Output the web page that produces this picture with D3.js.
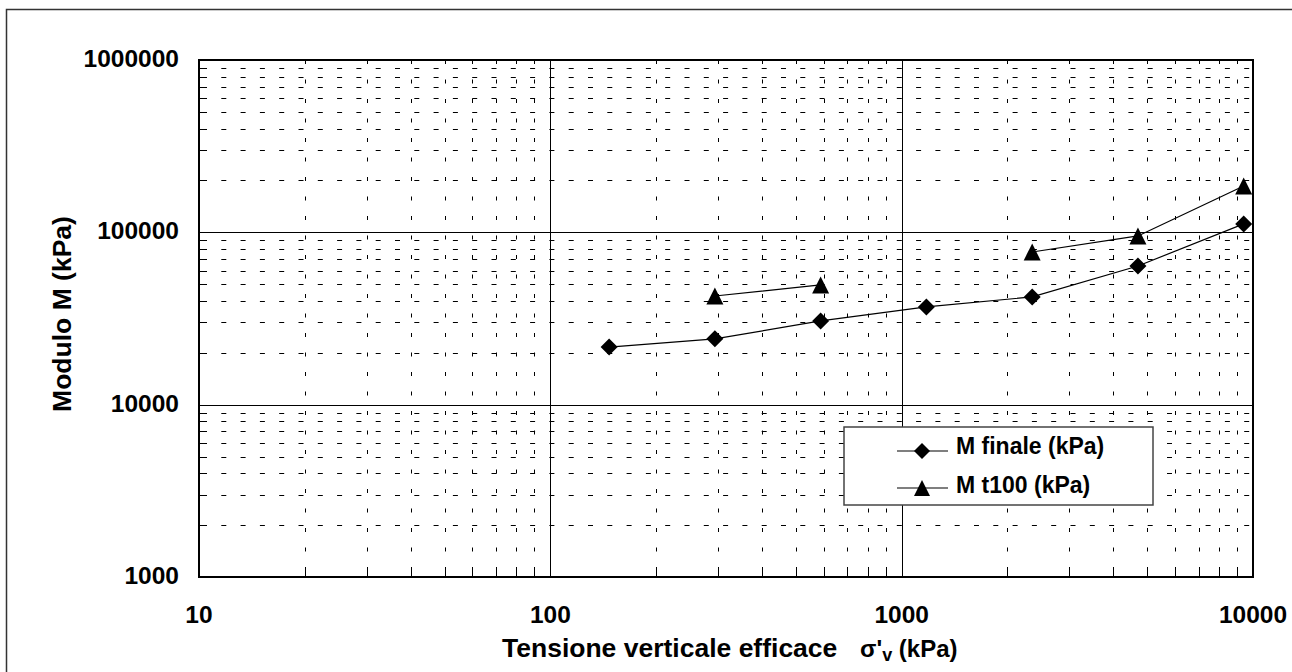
<!DOCTYPE html>
<html>
<head>
<meta charset="UTF-8" />
<script src="https://d3js.org/d3.v7.min.js"></script>
<title>Modulo M</title>
<style>
  body { margin: 0; background: white; }
  svg { display: block; font-family: "Liberation Sans", Arial, sans-serif; font-weight: bold; }
</style>
</head>
<body>
<div id="chart"></div>
<script>
// data
const sigma = [147, 294, 588, 1176, 2352, 4704, 9408];
const mFinale = [21600, 24100, 30600, 36900, 42200, 63800, 111900];
const mT100 = [null, 42700, 49500, null, 76900, 95300, 185900];
const xTicks = [10, 100, 1000, 10000];
const yTicks = [1000, 10000, 100000, 1000000];
const seriesNames = ["M finale (kPa)", "M t100 (kPa)"];

const W = 1292, H = 672;
const pLeft = 199, pRight = 1253, pTop = 60, pBottom = 577;

const svg = d3.select("#chart").append("svg").attr("width", W).attr("height", H);

// outer frame
svg.append("rect").attr("x", 6.5).attr("y", 9.5).attr("width", 1400).attr("height", 800)
  .attr("fill", "none").attr("stroke", "#333").attr("stroke-width", 1.5);

const x = d3.scaleLog().domain([10, 10000]).range([pLeft, pRight]);
const y = d3.scaleLog().domain([1000, 1000000]).range([pBottom, pTop]);

// minor values
const minorX = [], minorY = [];
xTicks.slice(0, -1).forEach(d => { for (let k = 2; k <= 9; k++) minorX.push(k * d); });
yTicks.slice(0, -1).forEach(d => { for (let k = 2; k <= 9; k++) minorY.push(k * d); });

const grid = svg.append("g");
grid.selectAll(".vminor").data(minorX).join("line")
  .attr("x1", d => Math.round(x(d)) + 0.5).attr("x2", d => Math.round(x(d)) + 0.5)
  .attr("y1", pTop).attr("y2", pBottom)
  .attr("stroke", "#000").attr("stroke-width", 1).attr("stroke-dasharray", "4 15.5");
grid.selectAll(".hminor").data(minorY).join("line")
  .attr("y1", d => Math.round(y(d)) + 0.5).attr("y2", d => Math.round(y(d)) + 0.5)
  .attr("x1", pLeft + 3).attr("x2", pRight)
  .attr("stroke", "#000").attr("stroke-width", 1).attr("stroke-dasharray", "5 14.3");
grid.selectAll(".vmajor").data(xTicks.slice(1, -1)).join("line")
  .attr("x1", d => Math.round(x(d)) + 0.5).attr("x2", d => Math.round(x(d)) + 0.5)
  .attr("y1", pTop).attr("y2", pBottom).attr("stroke", "#000").attr("stroke-width", 1);
grid.selectAll(".hmajor").data(yTicks.slice(1, -1)).join("line")
  .attr("y1", d => Math.round(y(d)) + 0.5).attr("y2", d => Math.round(y(d)) + 0.5)
  .attr("x1", pLeft).attr("x2", pRight).attr("stroke", "#000").attr("stroke-width", 1);

// inward minor ticks
grid.selectAll(".xt").data(minorX).join("line")
  .attr("x1", d => Math.round(x(d)) + 0.5).attr("x2", d => Math.round(x(d)) + 0.5)
  .attr("y1", pBottom).attr("y2", pBottom - 6).attr("stroke", "#000");
grid.selectAll(".yt").data(minorY).join("line")
  .attr("y1", d => Math.round(y(d)) + 0.5).attr("y2", d => Math.round(y(d)) + 0.5)
  .attr("x1", pLeft).attr("x2", pLeft + 6).attr("stroke", "#000");

// plot border
svg.append("rect").attr("x", pLeft).attr("y", pTop).attr("width", pRight - pLeft).attr("height", pBottom - pTop)
  .attr("fill", "none").attr("stroke", "#000").attr("stroke-width", 2);

// tick labels
svg.append("g").selectAll("text").data(xTicks).join("text")
  .attr("x", d => x(d)).attr("y", 623).attr("text-anchor", "middle")
  .attr("font-size", 24.5).text(d => d);
svg.append("g").selectAll("text").data(yTicks).join("text")
  .attr("x", 179).attr("y", d => y(d) + 7).attr("text-anchor", "end")
  .attr("font-size", 24.5).text(d => d);

// axis titles
const xt = svg.append("text").attr("x", 502).attr("y", 657).attr("font-size", 26.5);
xt.append("tspan").text("Tensione verticale efficace");
xt.append("tspan").attr("x", 860).attr("font-size", 24).text("σ'");
xt.append("tspan").attr("font-size", 18).attr("dy", 4).text("v");
xt.append("tspan").attr("font-size", 24).attr("dy", -4).text(" (kPa)");
svg.append("text").attr("transform", "translate(71,314) rotate(-90)")
  .attr("text-anchor", "middle").attr("font-size", 26.5).text("Modulo M (kPa)");

// series
const dia = { draw(ctx, size) { const r = Math.sqrt(size) / 2; ctx.moveTo(0, -r); ctx.lineTo(r, 0); ctx.lineTo(0, r); ctx.lineTo(-r, 0); ctx.closePath(); } };
const tri = { draw(ctx, size) { const r = Math.sqrt(size) / 2; ctx.moveTo(0, -r); ctx.lineTo(r, r); ctx.lineTo(-r, r); ctx.closePath(); } };
const diamond = d3.symbol().type(dia).size(289);
const triangle = d3.symbol().type(tri).size(289);

function drawSeries(vals, sym) {
  const pts = sigma.map((s, i) => [s, vals[i]]);
  svg.append("path").datum(pts)
    .attr("d", d3.line().defined(d => d[1] != null).x(d => x(d[0])).y(d => y(d[1])))
    .attr("fill", "none").attr("stroke", "#000").attr("stroke-width", 1.2);
  svg.append("g").selectAll("path").data(pts.filter(d => d[1] != null)).join("path")
    .attr("transform", d => `translate(${x(d[0])},${y(d[1])})`)
    .attr("d", sym).attr("fill", "#000");
}
drawSeries(mFinale, diamond);
drawSeries(mT100, triangle);

// legend
const lg = svg.append("g");
lg.append("rect").attr("x", 844).attr("y", 427).attr("width", 309).attr("height", 78)
  .attr("fill", "white").attr("stroke", "#444").attr("stroke-width", 1.5);
const legendSyms = [d3.symbol().type(dia).size(256), d3.symbol().type(tri).size(256)];
legendSyms.forEach((sym, i) => {
  const cy = 451 + i * 37;
  lg.append("line").attr("x1", 897).attr("x2", 948).attr("y1", cy).attr("y2", cy)
    .attr("stroke", "#000").attr("stroke-width", 1.2);
  lg.append("path").attr("transform", `translate(922,${cy})`).attr("d", sym).attr("fill", "#000");
  lg.append("text").attr("x", 956).attr("y", 454 + i * 39).attr("font-size", 23).text(seriesNames[i]);
});
</script>
</body>
</html>
